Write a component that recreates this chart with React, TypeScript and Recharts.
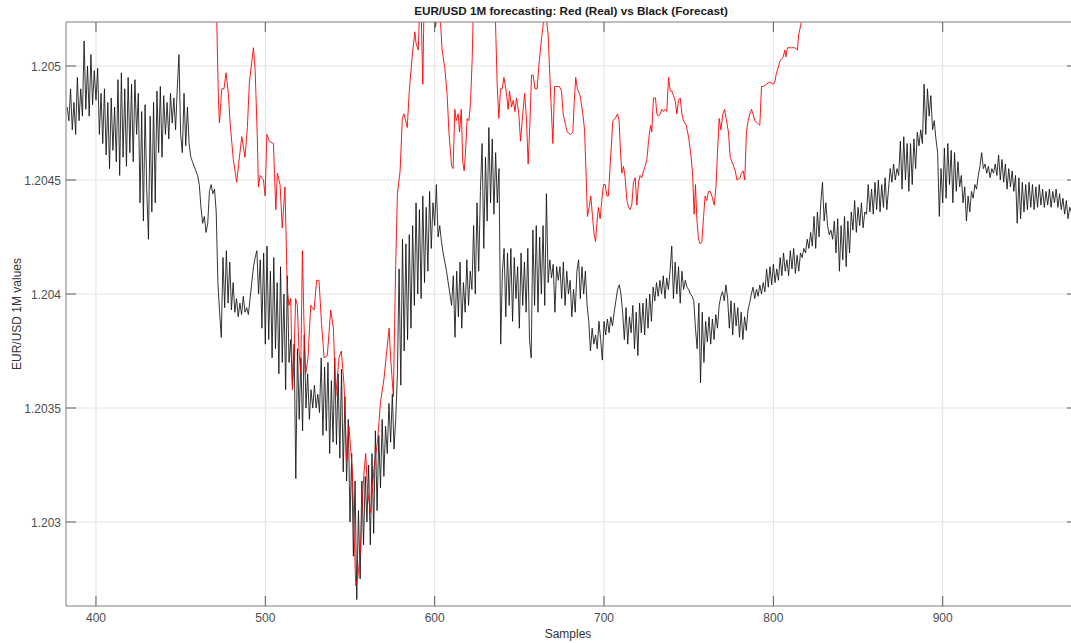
import React from 'react';
import { LineChart, Line, XAxis, YAxis, CartesianGrid } from 'recharts';

const TITLE = 'EUR/USD 1M forecasting: Red (Real) vs Black (Forecast)';
const X_LABEL = 'Samples';
const Y_LABEL = 'EUR/USD 1M values';

const xTicks = [400, 500, 600, 700, 800, 900];
const yTicks = [1.203, 1.2035, 1.204, 1.2045, 1.205];
const xDomain: [number, number] = [382.3, 979.3];
const yDomain: [number, number] = [1.2026316, 1.205193];

// Forecast (black), one value per sample, samples 383..582
const forecastStart = 383;
const forecastPart1 = [
  1.20482, 1.20476, 1.20490, 1.20472, 1.20484, 1.20470, 1.20495, 1.20476, 1.20490, 1.20478,
  1.20511, 1.20481, 1.20500, 1.20478, 1.20505, 1.20483, 1.20498, 1.20485, 1.20499, 1.20470,
  1.20488, 1.20466, 1.20490, 1.20461, 1.20484, 1.20455, 1.20486, 1.20463, 1.20482, 1.20458,
  1.20494, 1.20452, 1.20497, 1.20460, 1.20490, 1.20456, 1.20495, 1.20462, 1.20492, 1.20458,
  1.20494, 1.20470, 1.20488, 1.20440, 1.20480, 1.20432, 1.20483, 1.20445, 1.20424, 1.20478,
  1.20436, 1.20484, 1.20440, 1.20489, 1.20462, 1.20491, 1.20460, 1.20487, 1.20470, 1.20484,
  1.20468, 1.20488, 1.20475, 1.20486, 1.20472, 1.20490, 1.20505, 1.20470, 1.20462, 1.20488,
  1.20465, 1.20482, 1.20466, 1.20460, 1.20458, 1.20456, 1.20454, 1.20452, 1.20448, 1.20438,
  1.20431, 1.20434, 1.20427, 1.20431, 1.20445, 1.20448, 1.20444, 1.20446, 1.20436, 1.20405,
  1.20392, 1.20381, 1.20416, 1.20394, 1.20419, 1.20396, 1.20414, 1.20393, 1.20405, 1.20392,
  1.20398, 1.20390, 1.20396, 1.20391, 1.20399, 1.20392, 1.20394, 1.20391, 1.20398, 1.20405,
  1.20412, 1.20416, 1.20419, 1.20400, 1.20415, 1.20385, 1.20418, 1.20378, 1.20421, 1.20380,
  1.20410, 1.20372, 1.20416, 1.20376, 1.20405, 1.20365, 1.20412, 1.20370, 1.20400, 1.20358,
  1.20408, 1.20370, 1.20380, 1.20360, 1.20378, 1.20319, 1.20376, 1.20345, 1.20372, 1.20340,
  1.20382, 1.20350, 1.20365, 1.20345, 1.20358, 1.20350, 1.20360, 1.20350, 1.20356, 1.20348,
  1.20372, 1.20338, 1.20368, 1.20340, 1.20370, 1.20330, 1.20362, 1.20335, 1.20372, 1.20334,
  1.20365, 1.20328, 1.20367, 1.20322, 1.20355, 1.20318, 1.20345, 1.20300, 1.20330, 1.20285,
  1.20318, 1.20266, 1.20305, 1.20275, 1.20318, 1.20290, 1.20320, 1.20300, 1.20325, 1.20290,
  1.20330, 1.20295, 1.20340, 1.20305, 1.20338, 1.20315, 1.20345, 1.20320, 1.20342, 1.20330,
  1.20352, 1.20335, 1.20356, 1.20332, 1.20345, 1.20365, 1.20411, 1.20360, 1.20424, 1.20375,
];
// samples 583..782
const forecastPart2 = [
  1.20422, 1.20380, 1.20426, 1.20385, 1.20430, 1.20395, 1.20440, 1.20400, 1.20437, 1.20398,
  1.20443, 1.20405, 1.20438, 1.20410, 1.20445, 1.20420, 1.20440, 1.20430, 1.20448, 1.20425,
  1.20430, 1.20423, 1.20418, 1.20414, 1.20410, 1.20405, 1.20400, 1.20395, 1.20408, 1.20381,
  1.20410, 1.20390, 1.20414, 1.20385, 1.20405, 1.20392, 1.20415, 1.20395, 1.20410, 1.20402,
  1.20430, 1.20400, 1.20440, 1.20410, 1.20445, 1.20466, 1.20420, 1.20460, 1.20432, 1.20473,
  1.20440, 1.20468, 1.20435, 1.20462, 1.20440, 1.20455, 1.20378, 1.20410, 1.20420, 1.20390,
  1.20418, 1.20395, 1.20420, 1.20388, 1.20416, 1.20398, 1.20412, 1.20385, 1.20418, 1.20395,
  1.20414, 1.20392, 1.20420, 1.20380, 1.20372, 1.20428, 1.20395, 1.20430, 1.20392, 1.20425,
  1.20400, 1.20430, 1.20395, 1.20444, 1.20405, 1.20415, 1.20407, 1.20413, 1.20392, 1.20412,
  1.20406, 1.20412, 1.20398, 1.20414, 1.20395, 1.20410, 1.20400, 1.20406, 1.20390, 1.20402,
  1.20392, 1.20410, 1.20415, 1.20398, 1.20412, 1.20400, 1.20410, 1.20395, 1.20388, 1.20375,
  1.20385, 1.20378, 1.20382, 1.20376, 1.20388, 1.20380, 1.20371, 1.20388, 1.20382, 1.20389,
  1.20383, 1.20390, 1.20386, 1.20392, 1.20397, 1.20402, 1.20404, 1.20400, 1.20392, 1.20380,
  1.20394, 1.20378, 1.20390, 1.20383, 1.20395, 1.20376, 1.20392, 1.20373, 1.20396, 1.20383,
  1.20396, 1.20382, 1.20398, 1.20385, 1.20400, 1.20388, 1.20403, 1.20397, 1.20405, 1.20399,
  1.20406, 1.20400, 1.20408, 1.20398, 1.20407, 1.20402, 1.20410, 1.20421, 1.20398, 1.20414,
  1.20400, 1.20412, 1.20396, 1.20410, 1.20402, 1.20406, 1.20403, 1.20402, 1.20400, 1.20399,
  1.20397, 1.20385, 1.20376, 1.20396, 1.20361, 1.20392, 1.20370, 1.20388, 1.20379, 1.20390,
  1.20378, 1.20389, 1.20380, 1.20391, 1.20385, 1.20395, 1.20399, 1.20401, 1.20397, 1.20404,
  1.20398, 1.20385, 1.20397, 1.20382, 1.20396, 1.20386, 1.20394, 1.20381, 1.20392, 1.20380,
];
// samples 783..976
const forecastPart3 = [
  1.20390, 1.20384, 1.20393, 1.20396, 1.20400, 1.20403, 1.20398, 1.20402, 1.20399, 1.20404,
  1.20400, 1.20405, 1.20401, 1.20411, 1.20403, 1.20412, 1.20404, 1.20413, 1.20405, 1.20411,
  1.20406, 1.20416, 1.20408, 1.20418, 1.20410, 1.20415, 1.20408, 1.20419, 1.20411, 1.20420,
  1.20409, 1.20417, 1.20410, 1.20418, 1.20416, 1.20420, 1.20418, 1.20424, 1.20420, 1.20427,
  1.20421, 1.20434, 1.20420, 1.20436, 1.20425, 1.20440, 1.20449, 1.20432, 1.20440, 1.20430,
  1.20426, 1.20428, 1.20424, 1.20432, 1.20418, 1.20433, 1.20410, 1.20430, 1.20415, 1.20434,
  1.20412, 1.20432, 1.20418, 1.20436, 1.20428, 1.20441, 1.20427, 1.20438, 1.20430, 1.20440,
  1.20429, 1.20436, 1.20435, 1.20448, 1.20436, 1.20446, 1.20435, 1.20449, 1.20437, 1.20450,
  1.20436, 1.20448, 1.20438, 1.20451, 1.20437, 1.20446, 1.20455, 1.20449, 1.20457, 1.20450,
  1.20455, 1.20452, 1.20467, 1.20446, 1.20469, 1.20450, 1.20466, 1.20445, 1.20466, 1.20448,
  1.20468, 1.20455, 1.20471, 1.20465, 1.20472, 1.20466, 1.20492, 1.20470, 1.20490, 1.20478,
  1.20487, 1.20472, 1.20476, 1.20468, 1.20462, 1.20434, 1.20455, 1.20440, 1.20464, 1.20442,
  1.20466, 1.20448, 1.20463, 1.20440, 1.20462, 1.20445, 1.20458, 1.20447, 1.20452, 1.20440,
  1.20447, 1.20432, 1.20443, 1.20436, 1.20445, 1.20442, 1.20448, 1.20446, 1.20452, 1.20456,
  1.20462, 1.20455, 1.20457, 1.20453, 1.20456, 1.20451, 1.20455, 1.20453, 1.20457, 1.20452,
  1.20461, 1.20450, 1.20459, 1.20449, 1.20457, 1.20446, 1.20455, 1.20447, 1.20454, 1.20445,
  1.20452, 1.20431, 1.20451, 1.20433, 1.20449, 1.20436, 1.20448, 1.20437, 1.20449, 1.20438,
  1.20448, 1.20437, 1.20447, 1.20438, 1.20448, 1.20439, 1.20446, 1.20438, 1.20445, 1.20439,
  1.20446, 1.20438, 1.20445, 1.20440, 1.20446, 1.20438, 1.20444, 1.20437, 1.20442, 1.20435,
  1.20441, 1.20433, 1.20438, 1.20436,
];

// Real (red): sample positions and values
const realSamples = [
  470, 471.3, 472.3, 472.9, 474.3, 475.6, 476.8, 478.2, 479.2, 481.1,
  483.1, 484.7, 486.1, 488.0, 489.4, 490.6, 493, 494, 495.3, 495.9,
  496.9, 498.9, 499.9, 500.9, 502.4, 504.8, 505.4, 506.2, 507.1, 508.7,
  510, 511.6, 513, 514, 515, 516, 517, 517.9, 518.9, 519.9,
  520.9, 521.9, 522.8, 523.8, 525.2, 526.8, 528.8, 530.3, 531.7, 533.1,
  534.7, 536.6, 538.6, 540.2, 541.6, 543.5, 544.9, 546.5, 548, 549.4,
  551.4, 552.4, 553.4, 554.7, 556.3, 557.3, 558.3, 559.3, 560.3, 562.2,
  564.2, 566.2, 568.1, 570.1, 571.7, 573.1, 574, 575.6, 577, 578,
  579.6, 580.9, 581.9, 583.8, 585.1, 586.7, 588.3, 589, 590.3, 591,
  592, 593, 593.6, 595, 597, 599.5, 600.5, 601.5, 602.5, 603.4,
  604.4, 606, 607.4, 608.4, 610, 610.9, 611.9, 612.7, 613.9, 614.7,
  615.7, 616.6, 617.4, 618.2, 619.2, 620.2, 621.2, 622.2, 622.7, 625,
  630, 635.5, 635.9, 636.9, 637.9, 638.9, 639.9, 640.9, 642.2, 643.4,
  644.2, 645.4, 646.4, 647.4, 648.3, 649.7, 650.7, 651.7, 653.1, 654.2,
  655.2, 656.2, 657.2, 658.2, 659.2, 660.5, 661.5, 663.1, 664.5, 665.2,
  665.9, 667, 667.8, 669, 669.8, 670.8, 672.4, 673.7, 674.9, 675.9,
  677.3, 678.3, 680.2, 681.6, 682.4, 683.3, 684.3, 685.9, 687.5, 688.5,
  689.5, 690.2, 691.2, 692.2, 693.2, 694.2, 695, 695.8, 696.7, 697.7,
  698.7, 699.7, 700.7, 701.7, 702.6, 703.6, 705.2, 706.6, 708, 708.9,
  709.5, 710.5, 711.5, 712.5, 713.5, 714.5, 715.4, 716.4, 717.4, 718.4,
  719.4, 720.4, 721.3, 722.3, 723.3, 724.3, 725.3, 726.3, 726.9, 727.6,
  728.2, 729.2, 730.4, 731.2, 732.2, 733.2, 734.1, 735.1, 736.1, 737.1,
  738.1, 739.1, 740.1, 741, 742, 743, 744, 745, 746, 746.9,
  748.5, 749.9, 751.3, 752.3, 753.2, 754, 754.8, 755.8, 756.8, 757.8,
  758.8, 759.7, 760.7, 761.7, 762.7, 763.7, 765.1, 766.2, 767, 768,
  769, 770.2, 771.2, 772.1, 773.5, 774.5, 776.1, 777.5, 778.5, 780.4,
  781.2, 782.2, 783.1, 784.1, 785.1, 786.1, 787.1, 788, 789, 790.6,
  792, 793, 794, 795.9, 797.9, 799.9, 800.9, 801.8, 802.8, 803.8,
  804.8, 805.8, 806.8, 807.4, 808.3, 810.7, 812.7, 814.2, 815, 816.2,
  817, 819,
];
const realValues = [
  1.20530, 1.20521, 1.20485, 1.20475, 1.20490, 1.20490, 1.20497, 1.20488, 1.20475, 1.20459,
  1.20449, 1.20460, 1.20469, 1.20460, 1.20473, 1.20493, 1.20508, 1.20498, 1.20468, 1.20447,
  1.20452, 1.20450, 1.20443, 1.20470, 1.20467, 1.20466, 1.20453, 1.20437, 1.20453, 1.20448,
  1.20429, 1.20447, 1.20401, 1.20395, 1.20398, 1.20358, 1.20373, 1.20398, 1.20395, 1.20375,
  1.20365, 1.20419, 1.20388, 1.20365, 1.20372, 1.20395, 1.20393, 1.20406, 1.20406, 1.20388,
  1.20372, 1.20373, 1.20393, 1.20385, 1.20355, 1.20372, 1.20375, 1.20360, 1.20327, 1.20342,
  1.20322, 1.20296, 1.20272, 1.20276, 1.20289, 1.20310, 1.20322, 1.20330, 1.20314, 1.20304,
  1.20324, 1.20335, 1.20353, 1.20363, 1.20375, 1.20385, 1.20372, 1.20355, 1.20413, 1.20444,
  1.20454, 1.20477, 1.20479, 1.20473, 1.20490, 1.20504, 1.20515, 1.20510, 1.20507, 1.20522,
  1.20524, 1.20492, 1.20522, 1.20530, 1.20535, 1.20524, 1.20517, 1.20523, 1.20530, 1.20520,
  1.20507, 1.20499, 1.20487, 1.20471, 1.20456, 1.20455, 1.20481, 1.20476, 1.20479, 1.20471,
  1.20481, 1.20458, 1.20454, 1.20462, 1.20477, 1.20476, 1.20484, 1.20504, 1.20521, 1.20535,
  1.20540, 1.20525, 1.20520, 1.20492, 1.20477, 1.20490, 1.20490, 1.20495, 1.20489, 1.20481,
  1.20489, 1.20482, 1.20485, 1.20480, 1.20486, 1.20479, 1.20467, 1.20476, 1.20488, 1.20477,
  1.20457, 1.20474, 1.20496, 1.20496, 1.20490, 1.20490, 1.20500, 1.20512, 1.20521, 1.20524,
  1.20521, 1.20514, 1.20499, 1.20479, 1.20466, 1.20491, 1.20491, 1.20491, 1.20489, 1.20479,
  1.20474, 1.20471, 1.20470, 1.20471, 1.20484, 1.20495, 1.20490, 1.20487, 1.20479, 1.20472,
  1.20451, 1.20434, 1.20438, 1.20443, 1.20434, 1.20426, 1.20423, 1.20431, 1.20438, 1.20433,
  1.20441, 1.20448, 1.20448, 1.20443, 1.20443, 1.20456, 1.20476, 1.20477, 1.20479, 1.20476,
  1.20466, 1.20453, 1.20456, 1.20451, 1.20441, 1.20438, 1.20437, 1.20439, 1.20449, 1.20451,
  1.20439, 1.20449, 1.20452, 1.20451, 1.20454, 1.20456, 1.20459, 1.20467, 1.20471, 1.20474,
  1.20471, 1.20486, 1.20486, 1.20479, 1.20478, 1.20479, 1.20481, 1.20480, 1.20481, 1.20480,
  1.20495, 1.20489, 1.20489, 1.20487, 1.20485, 1.20479, 1.20485, 1.20486, 1.20479, 1.20476,
  1.20474, 1.20469, 1.20461, 1.20453, 1.20435, 1.20448, 1.20433, 1.20424, 1.20422, 1.20423,
  1.20434, 1.20443, 1.20441, 1.20445, 1.20445, 1.20443, 1.20439, 1.20448, 1.20462, 1.20477,
  1.20472, 1.20479, 1.20481, 1.20477, 1.20471, 1.20460, 1.20457, 1.20454, 1.20450, 1.20451,
  1.20453, 1.20454, 1.20450, 1.20471, 1.20476, 1.20479, 1.20481, 1.20479, 1.20476, 1.20475,
  1.20474, 1.20491, 1.20491, 1.20492, 1.20493, 1.20492, 1.20493, 1.20497, 1.20499, 1.20502,
  1.20503, 1.20504, 1.20507, 1.20504, 1.20508, 1.20508, 1.20508, 1.20507, 1.20514, 1.20518,
  1.20521, 1.20528,
];

const forecastValues = [...forecastPart1, ...forecastPart2, ...forecastPart3];
const forecastData = forecastValues.map((v, i) => ({ x: forecastStart + i, y: v }));
const realData = realSamples.map((s, i) => ({ x: s, y: realValues[i] }));

const FONT = '"Liberation Sans", Arial, Helvetica, sans-serif';
const TICK_TEXT = '#4d4d4d';
const TICK_LINE = '#5a5a5a';
const AXIS_LINE = '#8c8c8c';
const GRID = '#e4e4e4';
const TICK_LEN = 10;

// layout of the plot box (pixels)
const PLOT_LEFT = 66;
const PLOT_TOP = 22;
const PLOT_BOTTOM = 606;
const TEXT_CENTER_X = 571;

const BottomTick = (props: any) => {
  const { x, y, payload } = props;
  return (
    <g>
      <line x1={x} x2={x} y1={y} y2={y - TICK_LEN} stroke={TICK_LINE} strokeWidth={1} />
      <text x={x} y={y + 16} textAnchor="middle" fontSize={12} fontFamily={FONT} fill={TICK_TEXT}>
        {String(payload.value)}
      </text>
    </g>
  );
};

const TopTick = (props: any) => {
  const { x, y } = props;
  return <line x1={x} x2={x} y1={y} y2={y + TICK_LEN} stroke={TICK_LINE} strokeWidth={1} />;
};

const LeftTick = (props: any) => {
  const { x, y, payload } = props;
  return (
    <g>
      <line x1={x} x2={x + TICK_LEN} y1={y} y2={y} stroke={TICK_LINE} strokeWidth={1} />
      <text x={x - 5} y={y + 4.5} textAnchor="end" fontSize={12} fontFamily={FONT} fill={TICK_TEXT}>
        {String(payload.value)}
      </text>
    </g>
  );
};

const RightTick = (props: any) => {
  const { x, y } = props;
  return <line x1={x} x2={x - TICK_LEN} y1={y} y2={y} stroke={TICK_LINE} strokeWidth={1} />;
};

const TitleLabel = () => (
  <text x={TEXT_CENTER_X} y={PLOT_TOP - 7} textAnchor="middle" fontSize={11.7} fontWeight="bold" fontFamily={FONT} fill="#1a1a1a">
    {TITLE}
  </text>
);

const XAxisLabel = () => (
  <text x={TEXT_CENTER_X - 3} y={PLOT_BOTTOM + 32} textAnchor="middle" fontSize={12} fontFamily={FONT} fill="#333333">
    {X_LABEL}
  </text>
);

const YAxisLabel = () => {
  const cx = PLOT_LEFT - 45;
  const cy = (PLOT_TOP + PLOT_BOTTOM) / 2;
  return (
    <text x={cx} y={cy} transform={`rotate(-90, ${cx}, ${cy})`} textAnchor="middle" fontSize={12} fontFamily={FONT} fill="#333333">
      {Y_LABEL}
    </text>
  );
};

export default function App() {
  return (
    <div style={{ position: 'absolute', left: 0, top: 0, width: 1071, height: 643, overflow: 'hidden', background: '#ffffff' }}>
      <LineChart width={1078} height={643} margin={{ top: 21, right: 0, bottom: 36, left: 65 }}>
        <CartesianGrid stroke={GRID} strokeWidth={1} />
        <XAxis
          dataKey="x"
          type="number"
          domain={xDomain}
          ticks={xTicks}
          allowDataOverflow
          height={1}
          tickSize={0}
          tickMargin={0}
          interval={0}
          tick={BottomTick}
          axisLine={{ stroke: AXIS_LINE, strokeWidth: 1 }}
          tickLine={false}
          label={{ content: XAxisLabel }}
        />
        <XAxis
          xAxisId="top"
          orientation="top"
          dataKey="x"
          type="number"
          domain={xDomain}
          ticks={xTicks}
          allowDataOverflow
          height={1}
          tickSize={0}
          tickMargin={0}
          interval={0}
          tick={TopTick}
          axisLine={{ stroke: AXIS_LINE, strokeWidth: 1 }}
          tickLine={false}
          label={{ content: TitleLabel }}
        />
        <YAxis
          type="number"
          domain={yDomain}
          ticks={yTicks}
          allowDataOverflow
          width={1}
          tickSize={0}
          tickMargin={0}
          interval={0}
          tick={LeftTick}
          axisLine={{ stroke: AXIS_LINE, strokeWidth: 1 }}
          tickLine={false}
          label={{ content: YAxisLabel }}
        />
        <YAxis
          yAxisId="right"
          orientation="right"
          type="number"
          domain={yDomain}
          ticks={yTicks}
          allowDataOverflow
          width={1}
          tickSize={0}
          tickMargin={0}
          interval={0}
          tick={RightTick}
          axisLine={{ stroke: AXIS_LINE, strokeWidth: 1 }}
          tickLine={false}
        />
        <Line
          data={forecastData}
          dataKey="y"
          type="linear"
          stroke="#111111"
          strokeWidth={0.85}
          dot={false}
          activeDot={false}
          isAnimationActive={false}
        />
        <Line
          data={realData}
          dataKey="y"
          type="linear"
          stroke="#ff0000"
          strokeWidth={0.9}
          dot={false}
          activeDot={false}
          isAnimationActive={false}
        />
      </LineChart>
    </div>
  );
}
